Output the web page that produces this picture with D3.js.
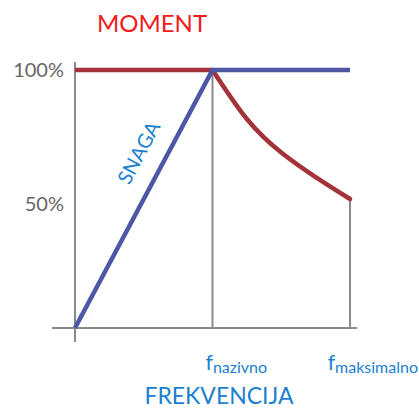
<!DOCTYPE html>
<html>
<head>
<meta charset="utf-8">
<script src="https://cdn.jsdelivr.net/npm/d3@7.9.0/dist/d3.min.js"></script>
<style>
  body { margin: 0; background: #fff; }
  svg { display: block; }
  text { font-family: Lato, "Open Sans", sans-serif; }
</style>
</head>
<body>
<svg id="chart" width="419" height="409"></svg>
<script>
// frequency is relative to f_nazivno (0 .. 2)
const snagaFreq = [0, 1, 2];
const snagaVals = [0, 1, 1];

// moment: flat to f_nazivno, then falling to ~50%
const momentFlatFreq = [0, 1];
const momentFlatVals = [1, 1];
const momentFallFreq = [1, 1.25, 1.5, 1.75, 2];
const momentFallVals = [1, 0.81, 0.68, 0.585, 0.5];

const yTicks = [0.5, 1];
const xTicks = [1, 2];
const xTickNames = ['nazivno', 'maksimalno'];

const W = 419;
const svg = d3.select('#chart');

const x = d3.scaleLinear().domain([0, 2]).range([75, 350]);
const y = d3.scaleLinear().domain([0, 1]).range([328, 70]);

const grey = '#8a8a8a';
const red = '#a3323a';
const blue = '#4e57a5';
const textBlue = '#1b7fd2';

function momentAt(f) {
  const i = momentFallFreq.indexOf(f);
  return i >= 0 ? momentFallVals[i] : 1;
}

// axes
svg.append('line')
  .attr('x1', x(0)).attr('x2', x(0))
  .attr('y1', y(1) - 8).attr('y2', y(0) + 14)
  .attr('stroke', grey).attr('stroke-width', 2);
svg.append('line')
  .attr('x1', x(0) - 23).attr('x2', x(2) + 7)
  .attr('y1', y(0)).attr('y2', y(0))
  .attr('stroke', grey).attr('stroke-width', 2);

// drop lines at f_nazivno and f_maksimalno
svg.selectAll('line.drop')
  .data(xTicks)
  .join('line')
  .attr('class', 'drop')
  .attr('x1', (d) => x(d)).attr('x2', (d) => x(d))
  .attr('y1', (d) => y(momentAt(d)))
  .attr('y2', y(0))
  .attr('stroke', grey).attr('stroke-width', 2);

// y tick labels
const yAxis = d3.axisLeft(y)
  .tickValues(yTicks)
  .tickFormat(d3.format('.0%'))
  .tickSize(0)
  .tickPadding(11);
svg.append('g')
  .attr('transform', `translate(${x(0)},0)`)
  .call(yAxis)
  .call((g) => g.select('.domain').remove())
  .call((g) => g.selectAll('text')
    .attr('font-family', 'Lato, sans-serif')
    .attr('font-size', 20)
    .attr('fill', '#666'));
svg.selectAll('.tick').filter((d) => d === 0.5).attr('transform', `translate(0,${y(0.5) + 6})`);

const line = d3.line()
  .x((d) => x(d[0]))
  .y((d) => y(d[1]));

// moment (red)
svg.append('path')
  .datum(d3.zip(momentFlatFreq, momentFlatVals))
  .attr('d', line.curve(d3.curveLinear))
  .attr('fill', 'none')
  .attr('stroke', red)
  .attr('stroke-width', 4.5);
svg.append('path')
  .datum(d3.zip(momentFallFreq, momentFallVals))
  .attr('d', line.curve(d3.curveNatural))
  .attr('fill', 'none')
  .attr('stroke', red)
  .attr('stroke-width', 4.5)
  .attr('stroke-linecap', 'round');

// snaga (blue)
svg.append('path')
  .datum(d3.zip(snagaFreq, snagaVals))
  .attr('d', line.curve(d3.curveLinear))
  .attr('fill', 'none')
  .attr('stroke', blue)
  .attr('stroke-width', 4.5)
  .attr('stroke-linejoin', 'miter');

// labels
svg.append('text')
  .attr('x', 152).attr('y', 32)
  .attr('text-anchor', 'middle')
  .attr('font-size', 24)
  .attr('fill', '#f01c1c')
  .text('MOMENT');

const angle = Math.atan2(y(0) - y(1), x(1) - x(0)) * 180 / Math.PI;
svg.append('text')
  .attr('transform', `translate(145,156) rotate(${-angle})`)
  .attr('text-anchor', 'middle')
  .attr('font-size', 20)
  .attr('fill', textBlue)
  .text('SNAGA');

const fLabels = svg.selectAll('text.flab')
  .data(xTicks)
  .join('text')
  .attr('class', 'flab')
  .attr('x', (d, i) => (i === xTicks.length - 1 ? W - 1 : x(d) - 7))
  .attr('y', 370)
  .attr('text-anchor', (d, i) => (i === xTicks.length - 1 ? 'end' : 'start'))
  .attr('fill', textBlue)
  .attr('font-size', 21);
fLabels.append('tspan').text('f');
fLabels.append('tspan')
  .attr('font-size', 16)
  .attr('dy', 3)
  .text((d, i) => xTickNames[i]);

svg.append('text')
  .attr('x', 219).attr('y', 404)
  .attr('text-anchor', 'middle')
  .attr('font-size', 23)
  .attr('fill', textBlue)
  .text('FREKVENCIJA');
</script>
</body>
</html>
